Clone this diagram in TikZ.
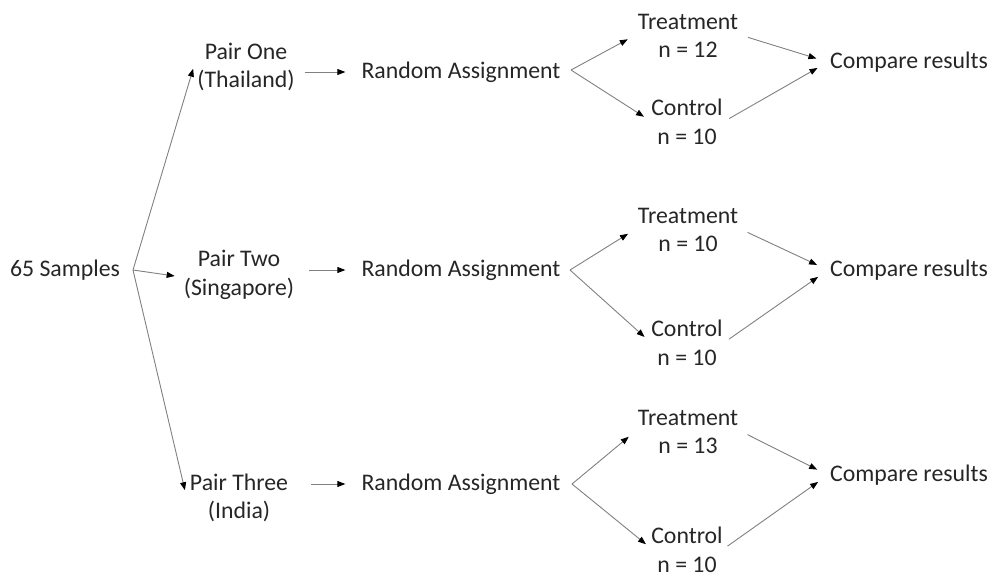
\documentclass[tikz,border=0pt]{standalone}
\usepackage{fontspec}
\setmainfont{Carlito}
\usetikzlibrary{arrows.meta}
\definecolor{txt}{HTML}{262626}
\definecolor{ln}{HTML}{808080}
\tikzset{
  lbl/.style={text=txt, align=center, inner sep=2pt, font=\fontsize{23.8}{28.5}\selectfont},
  arr/.style={draw=ln, line width=0.9pt, -{Triangle[length=8pt,width=6pt,color=black]}},
  seg/.style={draw=ln, line width=0.9pt}
}
\begin{document}
\begin{tikzpicture}[x=1pt,y=-1pt]
\useasboundingbox (0,0) rectangle (998,579);
% nodes
\node[lbl] (samp) at (65,270) {65 Samples};
\node[lbl] (p1) at (246,67) {Pair One\\(Thailand)};
\node[lbl] (p2) at (239,275) {Pair Two\\(Singapore)};
\node[lbl] (p3) at (239,498) {Pair Three\\(India)};
\node[lbl] (ra1) at (461,72) {Random Assignment};
\node[lbl] (ra2) at (461,270) {Random Assignment};
\node[lbl] (ra3) at (461,484) {Random Assignment};
\node[lbl] (t1) at (688,36) {Treatment\\n = 12};
\node[lbl] (c1) at (687,122) {Control\\n = 10};
\node[lbl] (t2) at (688,230) {Treatment\\n = 10};
\node[lbl] (c2) at (687,343) {Control\\n = 10};
\node[lbl] (t3) at (688,432) {Treatment\\n = 13};
\node[lbl, inner sep=0.5pt] (c3) at (687,550) {Control\\n = 10};
\node[lbl] (cr1) at (909,62) {Compare results};
\node[lbl] (cr2) at (909,270) {Compare results};
\node[lbl] (cr3) at (909,475) {Compare results};
% branching points
\coordinate (s0) at (133,270);
\coordinate (s1) at (571,70);
\coordinate (s2) at (570,270);
\coordinate (s3) at (572,484);
% 65 samples
\draw[arr, shorten >=7pt] (s0) -- ([yshift=5pt]p1.west);
\draw[arr, shorten >=7pt] (s0) -- ([yshift=-2pt]p2.west);
\draw[arr, shorten >=8pt] (s0) -- ([xshift=-1pt]p3.west);
% pair -> random assignment
\draw[arr, shorten <=8pt, shorten >=14pt] (p1.east |- ra1.west) -- (ra1.west);
\draw[arr, shorten <=13pt, shorten >=14pt] (p2.east |- ra2.west) -- (ra2.west);
\draw[arr, shorten <=21pt, shorten >=14pt] (p3.east |- ra3.west) -- (ra3.west);
% random assignment -> split
\foreach \i in {1,2,3}{
  \draw[arr, shorten >=9pt] (s\i) -- ([yshift=1pt]t\i.west);
  \draw[arr, shorten >=6pt] (s\i) -- ([yshift=2pt]c\i.west);
  \draw[arr, shorten <=8pt, shorten >=12pt] ([yshift=1pt]t\i.east) -- (cr\i.west);
  \draw[arr, shorten <=5pt, shorten >=12pt] ([yshift=1pt]c\i.east) -- (cr\i.west);
}
\end{tikzpicture}
\end{document}
